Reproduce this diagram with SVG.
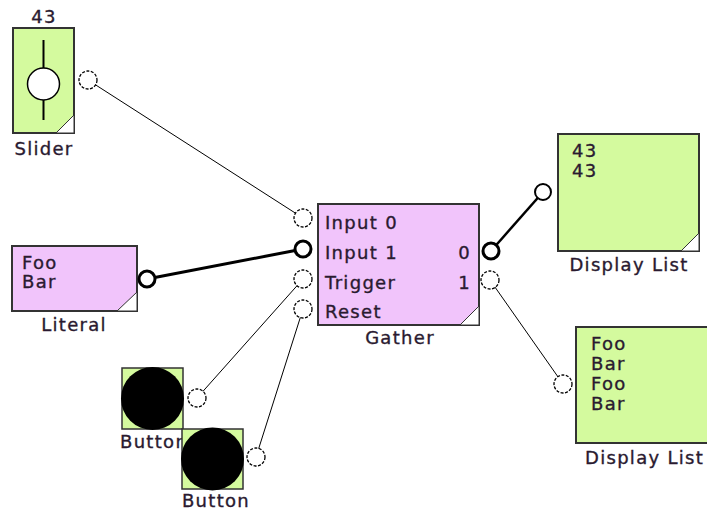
<svg xmlns="http://www.w3.org/2000/svg" width="707" height="512" viewBox="0 0 707 512">
<style>
text{font-family:"DejaVu Sans","Verdana",sans-serif;font-size:18px;letter-spacing:1.3px;fill:#2a1a30;stroke:#2a1a30;stroke-width:0.35}
.g{fill:#d4fa9e;stroke:#333;stroke-width:2}
.p{fill:#f1c4fb;stroke:#333;stroke-width:2}
.c{fill:#fff;stroke:#333;stroke-width:1}
.port{fill:#fff;stroke:#000;stroke-width:1.3;stroke-dasharray:3 1.5}
.portb{fill:#fff;stroke:#000;stroke-width:3}
.thin{stroke:#000;stroke-width:1;fill:none}
.thick{stroke:#000;stroke-width:3;fill:none}
.mid{stroke:#000;stroke-width:2.5;fill:none}
.m{text-anchor:middle}
</style>
<rect width="707" height="512" fill="#fff"/>
<g id="connectors">
<line class="thin" x1="88" y1="80" x2="303" y2="218"/>
<line class="thick" x1="147" y1="279" x2="303" y2="249"/>
<line class="thin" x1="197" y1="398" x2="303" y2="279"/>
<line class="thin" x1="256" y1="457" x2="303" y2="309"/>
<line class="mid" x1="491" y1="251" x2="543" y2="192"/>
<line class="thin" x1="490" y1="280" x2="563" y2="384"/>
</g>
<g id="slider">
<text x="44" y="23" class="m">43</text>
<rect class="g" x="13" y="28" width="61" height="105"/>
<line x1="43.5" y1="40" x2="43.5" y2="120" stroke="#000" stroke-width="2"/>
<circle cx="43.5" cy="84" r="16" fill="#fff" stroke="#000" stroke-width="1.5"/>
<path class="c" d="M56 133 L74 115 L74 133 Z"/>
<text x="44" y="155" class="m">Slider</text>
<circle class="port" cx="88" cy="80" r="9"/>
</g>
<g id="literal">
<rect class="p" x="12" y="246" width="125" height="65"/>
<path class="c" d="M117 311 L137 292 L137 311 Z"/>
<text x="22" y="269">Foo</text>
<text x="22" y="288">Bar</text>
<text x="74" y="331" class="m">Literal</text>
<circle class="portb" cx="147" cy="279" r="8"/>
</g>
<g id="gather">
<rect class="p" x="318" y="204" width="161" height="121"/>
<path class="c" d="M460 325 L479 306 L479 325 Z"/>
<text x="325" y="229">Input 0</text>
<text x="325" y="259">Input 1</text>
<text x="325" y="289">Trigger</text>
<text x="325" y="318">Reset</text>
<text x="471" y="259" text-anchor="end">0</text>
<text x="471" y="289" text-anchor="end">1</text>
<text x="400" y="344" class="m">Gather</text>
<circle class="port" cx="303" cy="218" r="9"/>
<circle class="portb" cx="303" cy="249" r="8"/>
<circle class="port" cx="303" cy="279" r="9"/>
<circle class="port" cx="303" cy="309" r="9"/>
<circle class="portb" cx="491" cy="251" r="8"/>
<circle class="port" cx="490" cy="280" r="9"/>
</g>
<g id="displaylist1">
<rect class="g" x="558" y="134" width="141" height="117"/>
<path class="c" d="M681 251 L699 233 L699 251 Z"/>
<text x="572" y="157">43</text>
<text x="572" y="177">43</text>
<text x="629" y="271" class="m">Display List</text>
<circle cx="543" cy="192" r="8" fill="#fff" stroke="#000" stroke-width="2"/>
</g>
<g id="displaylist2">
<rect class="g" x="576" y="327" width="141" height="116"/>
<text x="591" y="350">Foo</text>
<text x="591" y="370">Bar</text>
<text x="591" y="390">Foo</text>
<text x="591" y="410">Bar</text>
<text x="585" y="464">Display List</text>
<circle class="port" cx="563" cy="384" r="9"/>
</g>
<g id="button1">
<rect class="g" x="122" y="368" width="61" height="61" style="stroke-width:1.5"/>
<circle cx="152.5" cy="398.5" r="31.5" fill="#000"/>
<text x="120" y="448">Button</text>
<circle class="port" cx="197" cy="398" r="9"/>
</g>
<g id="button2">
<rect class="g" x="182" y="429" width="61" height="60" style="stroke-width:1.5"/>
<circle cx="212.5" cy="459" r="31.5" fill="#000"/>
<text x="216" y="507" class="m">Button</text>
<circle class="port" cx="256" cy="457" r="9"/>
</g>
</svg>
